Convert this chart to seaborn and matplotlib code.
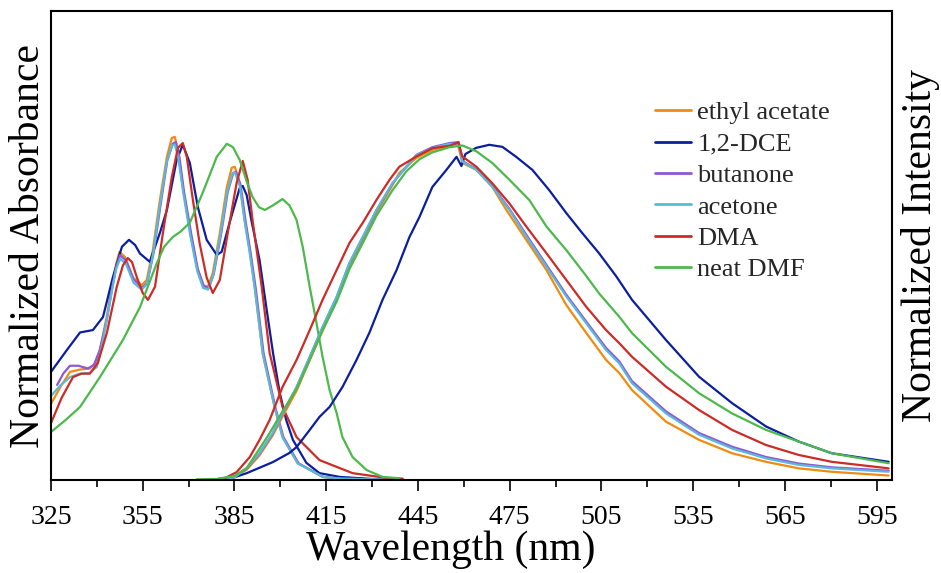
import matplotlib
matplotlib.use("Agg")
import matplotlib.pyplot as plt
from matplotlib.lines import Line2D
import numpy as np
import pandas as pd
import seaborn as sns

solvents = ["ethyl acetate", "1,2-DCE", "butanone", "acetone", "DMA", "neat DMF"]
colors = ["#F28A10", "#0B1E9E", "#8E58D6", "#5BB8D6", "#CC2B26", "#4DB84B"]

# ---------------- absorption spectra (normalized) ----------------
ea_abs_wl = [325, 328, 331.2, 334.5, 337.7, 340, 341.5, 343.3, 345, 346.3, 347.4, 349.2, 351.8, 354.7, 356.3,
             358.3, 360.6, 362.9, 364.5, 365.5, 366.5, 368.1, 370.4, 372.7, 374.6, 376.3, 377.9, 380.2, 382.5,
             384.1, 385.1, 386.7, 388.3, 390, 391.6, 394.2, 398.1, 400.7, 405.6, 413.8, 419.4, 430, 440]
ea_abs = [0.222, 0.27, 0.315, 0.322, 0.325, 0.345, 0.40, 0.48, 0.57, 0.63, 0.665, 0.65, 0.59, 0.568, 0.583,
          0.67, 0.816, 0.942, 0.997, 1.0, 0.962, 0.854, 0.729, 0.621, 0.568, 0.563, 0.603, 0.72, 0.854,
          0.91, 0.913, 0.866, 0.758, 0.67, 0.563, 0.37, 0.213, 0.125, 0.05, 0.009, 0.004, 0.002, 0.001]

dce_abs_wl = [325, 330.2, 334.5, 338.7, 342, 345.2, 348.2, 350.5, 352.5, 354.1, 357.3, 360.6, 362.9, 366.1,
              368.1, 370.4, 373, 375.9, 379.2, 380.8, 383.4, 386.7, 387.7, 389, 390.5, 393.2, 395.4, 397.6,
              399.8, 401.9, 404.1, 408.5, 412.8, 419.4, 430, 440]
dce_abs = [0.315, 0.379, 0.43, 0.437, 0.475, 0.59, 0.68, 0.70, 0.685, 0.66, 0.636, 0.72, 0.787, 0.933,
           0.977, 0.924, 0.796, 0.70, 0.656, 0.665, 0.75, 0.851, 0.857, 0.83, 0.758, 0.641, 0.504, 0.37,
           0.254, 0.175, 0.117, 0.05, 0.02, 0.009, 0.003, 0.001]

but_abs_wl = [327, 329, 331.2, 334, 337, 339, 341, 343.3, 345, 346.3, 347.6, 349.5, 352, 354.8, 356.5, 358.5,
              360.8, 363, 364.8, 365.8, 367, 368.5, 370.8, 373, 375, 376.6, 378.2, 380.5, 382.8, 384.6, 385.5,
              387, 388.7, 390.3, 392, 394.5, 398.4, 401, 406, 414, 420, 430, 440]
but_abs = [0.277, 0.31, 0.333, 0.333, 0.325, 0.335, 0.38, 0.47, 0.56, 0.62, 0.655, 0.64, 0.585, 0.56, 0.575, 0.66,
           0.80, 0.93, 0.98, 0.985, 0.94, 0.84, 0.72, 0.615, 0.565, 0.56, 0.60, 0.71, 0.84, 0.895, 0.898,
           0.86, 0.75, 0.66, 0.555, 0.37, 0.21, 0.125, 0.048, 0.009, 0.004, 0.002, 0.001]

ace_abs_wl = [325, 328, 331.2, 334.5, 337.7, 340, 341.5, 343.3, 345, 346.3, 347.6, 349.5, 352, 354.6, 356.3,
              358.3, 360.6, 362.9, 364.6, 365.5, 366.6, 368.2, 370.5, 372.8, 374.7, 376.4, 378, 380.3, 382.6,
              384.3, 385.2, 386.8, 388.4, 390, 391.7, 394.3, 398.2, 400.8, 405.7, 414, 420, 430, 440]
ace_abs = [0.245, 0.275, 0.30, 0.31, 0.312, 0.33, 0.385, 0.47, 0.555, 0.615, 0.645, 0.63, 0.575, 0.555, 0.57,
           0.655, 0.80, 0.93, 0.975, 0.978, 0.94, 0.84, 0.715, 0.61, 0.56, 0.555, 0.595, 0.71, 0.84,
           0.893, 0.895, 0.855, 0.75, 0.66, 0.555, 0.365, 0.21, 0.123, 0.048, 0.009, 0.004, 0.002, 0.001]

dma_abs_wl = [325, 328.5, 332.2, 335, 337.7, 340.3, 343.3, 346.5, 348.5, 350.1, 351.5, 353.1, 355, 356.7, 359,
              361.6, 364.5, 366.5, 368.1, 369.4, 371.4, 373.6, 375.9, 377.9, 380.2, 382.8, 385.7, 387.7,
              389.3, 390.9, 393.9, 396.5, 400.7, 405.3, 412.8, 423.6, 434.7, 440]
dma_abs = [0.166, 0.24, 0.30, 0.31, 0.31, 0.341, 0.43, 0.563, 0.625, 0.647, 0.635, 0.59, 0.545, 0.525, 0.563,
           0.72, 0.883, 0.968, 0.982, 0.942, 0.816, 0.69, 0.59, 0.545, 0.583, 0.72, 0.866, 0.93,
           0.875, 0.758, 0.563, 0.37, 0.213, 0.125, 0.058, 0.02, 0.006, 0.004]

dmf_abs_wl = [325, 329.8, 334.5, 341, 348.5, 354.1, 359.6, 362, 364.8, 367.5, 370.4, 374.6, 379.2, 382.5, 384.5,
              386.7, 389, 390.9, 393, 394.9, 397.5, 400.7, 403, 405.3, 407.3, 409.6, 411.8, 413.8, 416.1,
              418.4, 420.3, 423.6, 428.2, 433.4, 438.9]
dmf_abs = [0.14, 0.175, 0.213, 0.30, 0.408, 0.504, 0.632, 0.68, 0.708, 0.725, 0.75, 0.837, 0.942, 0.98, 0.97,
           0.933, 0.87, 0.825, 0.795, 0.787, 0.80, 0.819, 0.80, 0.758, 0.68, 0.563, 0.458, 0.359, 0.262,
           0.195, 0.125, 0.067, 0.029, 0.009, 0.005]

# ---------------- emission spectra (normalized) ----------------
ea_em_wl = [379, 384, 389, 393.2, 397.5, 400.7, 405.3, 409.6, 413.8, 418.4, 422.6, 426.9, 431.4, 436.7, 438.9,
            444.5, 449.7, 455.3, 457.9, 459.5, 464.1, 469.3, 473.9, 480.4, 487, 493.5, 500, 506.5, 510.8,
            515, 526.1, 536.9, 547.7, 558.8, 569.5, 580.3, 598.9]
ea_em = [0.002, 0.006, 0.03, 0.072, 0.13, 0.185, 0.26, 0.35, 0.435, 0.525, 0.625, 0.70, 0.78, 0.86, 0.895,
         0.939, 0.962, 0.974, 0.983, 0.924, 0.904, 0.854, 0.787, 0.70, 0.612, 0.51, 0.429, 0.35, 0.312,
         0.262, 0.17, 0.117, 0.078, 0.053, 0.034, 0.024, 0.013]

dce_em_wl = [379, 385, 389, 393, 397.5, 403, 405.3, 409.6, 412.8, 416.1, 420.3, 424.9, 429.1, 433.4, 438,
             442.2, 445.5, 449.7, 454.3, 457.6, 459.2, 460.5, 464, 468.3, 472.6, 477.1, 482.4, 487.9, 493.5,
             498.7, 504.2, 509.8, 515, 526.1, 536.9, 547.7, 558.8, 569.5, 580.3, 598.9]
dce_em = [0.002, 0.008, 0.02, 0.035, 0.052, 0.079, 0.096, 0.146, 0.184, 0.213, 0.271, 0.35, 0.429, 0.525, 0.612,
          0.708, 0.767, 0.854, 0.904, 0.942, 0.915, 0.95, 0.968, 0.977, 0.971, 0.942, 0.904, 0.845, 0.778,
          0.72, 0.661, 0.594, 0.525, 0.408, 0.301, 0.224, 0.156, 0.112, 0.078, 0.053]

but_em_wl = [380, 385, 389, 393.2, 397.5, 400.7, 405.3, 409.6, 413.8, 418.4, 422.6, 426.9, 431.4, 436.7,
             444.5, 449.7, 455.3, 458.3, 459.5, 464.1, 469.3, 474.9, 480.4, 487, 493.5, 500, 506.5, 510.8,
             515, 526.1, 536.9, 547.7, 558.8, 569.5, 580.3, 598.9]
but_em = [0.002, 0.008, 0.033, 0.077, 0.135, 0.193, 0.27, 0.358, 0.445, 0.533, 0.632, 0.707, 0.786, 0.865,
          0.948, 0.97, 0.982, 0.985, 0.93, 0.906, 0.858, 0.79, 0.715, 0.627, 0.54, 0.462, 0.385, 0.346,
          0.288, 0.2, 0.137, 0.097, 0.067, 0.048, 0.037, 0.027]

ace_em_wl = [380, 385, 389, 393.2, 397.5, 400.7, 405.3, 409.6, 413.8, 418.4, 422.6, 426.9, 431.4, 436.7,
             444.5, 449.7, 455.3, 458.5, 459.5, 464.1, 469.3, 474.9, 480.4, 487, 493.5, 500, 506.5, 510.8,
             515, 526.1, 536.9, 547.7, 558.8, 569.5, 580.3, 598.9]
ace_em = [0.002, 0.008, 0.035, 0.079, 0.137, 0.195, 0.271, 0.359, 0.446, 0.534, 0.633, 0.708, 0.787, 0.866,
          0.947, 0.967, 0.98, 0.977, 0.928, 0.904, 0.855, 0.787, 0.71, 0.622, 0.535, 0.457, 0.379, 0.34,
          0.282, 0.194, 0.132, 0.092, 0.063, 0.044, 0.034, 0.024]

dma_em_wl = [379, 382, 385.7, 390, 393.2, 396.5, 400.7, 405.3, 409.6, 413.8, 418.4, 422.6, 426.9, 431.4,
             435.7, 438.9, 444.5, 449.7, 455.3, 458.2, 459.5, 464.1, 469.3, 474.9, 480.4, 487, 493.5, 500,
             506.5, 510.8, 515, 526.1, 536.9, 547.7, 558.8, 569.5, 580.3, 598.9]
dma_em = [0.002, 0.006, 0.023, 0.067, 0.117, 0.175, 0.271, 0.35, 0.437, 0.525, 0.612, 0.691, 0.749, 0.816,
          0.875, 0.913, 0.943, 0.967, 0.974, 0.984, 0.943, 0.913, 0.865, 0.806, 0.739, 0.661, 0.583, 0.505,
          0.437, 0.399, 0.359, 0.272, 0.204, 0.146, 0.102, 0.073, 0.053, 0.034]

dmf_em_wl = [372.7, 379.2, 385, 389, 394.2, 396.5, 400.7, 405.3, 409.6, 413.8, 418.4, 422.6, 426.9, 431.4,
             436.7, 441.2, 445.5, 449.7, 455.3, 459.5, 464.1, 469.3, 474.9, 481.4, 487, 493.5, 500, 504.2,
             510.8, 515, 526.1, 536.9, 547.7, 558.8, 569.5, 580.3, 598.9]
dmf_em = [0.002, 0.003, 0.012, 0.035, 0.105, 0.137, 0.2, 0.265, 0.35, 0.436, 0.52, 0.615, 0.69, 0.77,
          0.845, 0.9, 0.935, 0.955, 0.97, 0.975, 0.958, 0.924, 0.875, 0.816, 0.739, 0.67, 0.595, 0.544,
          0.476, 0.428, 0.33, 0.253, 0.194, 0.146, 0.112, 0.078, 0.049]

xticks = [325, 355, 385, 415, 445, 475, 505, 535, 565, 595]
minor_xticks = [340, 370, 400, 430, 460, 490, 520, 550, 580]

abs_sets = [(ea_abs_wl, ea_abs), (dce_abs_wl, dce_abs), (but_abs_wl, but_abs),
            (ace_abs_wl, ace_abs), (dma_abs_wl, dma_abs), (dmf_abs_wl, dmf_abs)]
em_sets = [(ea_em_wl, ea_em), (dce_em_wl, dce_em), (but_em_wl, but_em),
           (ace_em_wl, ace_em), (dma_em_wl, dma_em), (dmf_em_wl, dmf_em)]


def long_form(sets):
    rows = []
    for name, (wl, val) in zip(solvents, sets):
        for w, v in zip(wl, val):
            rows.append({"solvent": name, "wl": w, "val": v})
    return pd.DataFrame(rows)


df_abs = long_form(abs_sets)
df_em = long_form(em_sets)

sns.set_theme(style="white")
plt.rcParams["font.family"] = ["Liberation Serif", "DejaVu Serif"]

fig = plt.figure(figsize=(9.41, 5.73), dpi=100)
ax = fig.add_axes([51 / 941, 93 / 573, 841 / 941, 469 / 573])

palette = dict(zip(solvents, colors))
for df in (df_abs, df_em):
    sns.lineplot(data=df, x="wl", y="val", hue="solvent", hue_order=solvents, palette=palette,
                 estimator=None, sort=True, lw=1.6, ax=ax, legend=False)

ax.set_xticks(xticks)
ax.set_xticks(minor_xticks, minor=True)
ax.set_yticks([])
ax.set_xlim(325, 600)
ax.set_ylim(0, 1.367)
ax.tick_params(axis="x", which="major", direction="out", length=8, width=1.2,
               labelsize=20, pad=10, color="black", labelcolor="black", bottom=True)
ax.tick_params(axis="x", which="minor", direction="out", length=5, width=1.2, bottom=True, color="black")
for s in ax.spines.values():
    s.set_visible(True)
    s.set_color("black")
    s.set_linewidth(1.5)

ax.set_xlabel("Wavelength (nm)", fontsize=30, labelpad=0, color="black")
ax.xaxis.set_label_coords(0.4756, -0.148)
ax.xaxis.label.set_va("center")
ax.set_ylabel("Normalized Absorbance", fontsize=30, color="black")
ax.yaxis.set_label_coords(-0.027, 0.5)
ax.yaxis.label.set_va("center")
ax.text(1.0333, 0.5, "Normalized Intensity", rotation=90, fontsize=30, ha="center", va="center",
        transform=ax.transAxes, color="black")

handles = [Line2D([0], [0], color=c, lw=2.0) for c in colors]
ax.legend(handles, solvents, loc="upper left", bbox_to_anchor=(655 / 941, 1 - 101 / 573),
          bbox_transform=fig.transFigure, frameon=False, fontsize=19, borderpad=0,
          borderaxespad=0, handlelength=1.35, handletextpad=0.25, labelspacing=0.3)

fig.savefig("out.png", dpi=100)
